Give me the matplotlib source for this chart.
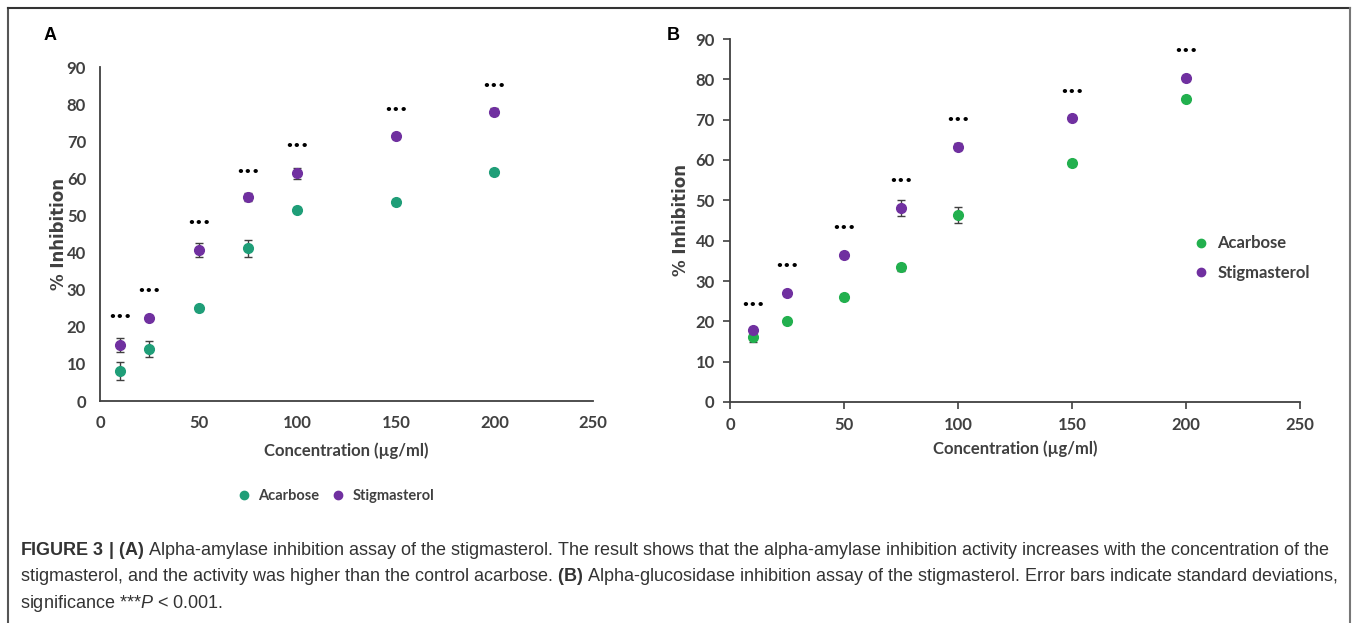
import matplotlib.pyplot as plt
from matplotlib.lines import Line2D

plt.rcParams['mathtext.fontset'] = 'custom'
plt.rcParams['mathtext.bf'] = 'Liberation Sans:bold'
plt.rcParams['mathtext.it'] = 'Liberation Sans:italic'
plt.rcParams['mathtext.rm'] = 'Liberation Sans'

# concentrations (ug/ml)
conc = [10, 25, 50, 75, 100, 150, 200]

# panel A: alpha-amylase
amy_acarbose = [8.1, 14.0, 25.0, 41.1, 51.6, 53.5, 61.8]
amy_acarbose_sd = [2.5, 2.1, 0.7, 2.2, 0.8, 0.8, 0.8]
amy_stigma = [15.1, 22.5, 40.7, 55.0, 61.4, 71.4, 78.0]
amy_stigma_sd = [2.0, 0.7, 1.9, 1.0, 1.5, 0.8, 0.9]
amy_star_y = [22.5, 29.6, 47.9, 61.7, 68.7, 78.2, 84.7]

# panel B: alpha-glucosidase
glu_acarbose = [16.0, 20.0, 26.0, 33.4, 46.4, 59.2, 75.2]
glu_acarbose_sd = [1.0, 0.6, 0.7, 0.8, 2.0, 0.7, 0.6]
glu_stigma = [17.9, 27.0, 36.5, 48.1, 63.3, 70.5, 80.3]
glu_stigma_sd = [0.7, 0.7, 0.7, 2.1, 0.8, 0.7, 0.7]
glu_star_y = [23.9, 33.6, 42.9, 54.6, 69.7, 76.7, 86.8]

xticks = [0, 50, 100, 150, 200, 250]
yticks = [0, 10, 20, 30, 40, 50, 60, 70, 80, 90]

caption = ("$\\bf{FIGURE\\ 3\\ |\\ (A)}$ Alpha-amylase inhibition assay of the stigmasterol. "
           "The result shows that the alpha-amylase inhibition activity increases with the concentration of the\n"
           "stigmasterol, and the activity was higher than the control acarbose. "
           "$\\bf{(B)}$ Alpha-glucosidase inhibition assay of the stigmasterol. "
           "Error bars indicate standard deviations,\n"
           "significance ***$\\it{P}$ < 0.001.")

green_a = '#1f9e78'
green_b = '#22b04e'
purple = '#7030a0'
axis_col = '#404040'
tick_font = ['Lato', 'DejaVu Sans']

W, H = 1357, 623
fig = plt.figure(figsize=(W / 100, H / 100), dpi=100)


def frac(x0, y0, x1, y1):
    return [x0 / W, 1 - y1 / H, (x1 - x0) / W, (y1 - y0) / H]


def panel(ax, acarb, acarb_sd, stig, stig_sd, stars, green, ticks):
    ax.errorbar(conc, acarb, yerr=acarb_sd, fmt='o', color=green, ms=7,
                ecolor='#404040', elinewidth=1, capsize=3, label='Acarbose')
    ax.errorbar(conc, stig, yerr=stig_sd, fmt='o', color=purple, ms=7,
                ecolor='#404040', elinewidth=1, capsize=3, label='Stigmasterol')
    for x, y in zip(conc, stars):
        ax.text(x, y, '•••', ha='center', va='center', fontsize=9,
                fontweight='bold', color='black', family='DejaVu Sans')
    ax.set_xlim(0, 250)
    ax.set_ylim(0, 90)
    ax.set_xticks(xticks)
    ax.set_yticks(yticks)
    for s in ['top', 'right']:
        ax.spines[s].set_visible(False)
    for s in ['left', 'bottom']:
        ax.spines[s].set_color(axis_col)
        ax.spines[s].set_linewidth(1.3)
    ax.tick_params(colors=axis_col, labelsize=12, length=5 if ticks else 0,
                   width=1.2, pad=10 if not ticks else 6)
    for lab in ax.get_xticklabels() + ax.get_yticklabels():
        lab.set_family(tick_font)
        lab.set_fontweight('bold')
    ax.set_xlabel('Concentration (µg/ml)', family=tick_font, fontweight='bold',
                  fontsize=12, color=axis_col)
    ax.set_ylabel('% Inhibition', fontweight='bold', fontsize=12, color=axis_col,
                  family='DejaVu Sans')


# panel A
axA = fig.add_axes(frac(100, 67, 593, 401))
panel(axA, amy_acarbose, amy_acarbose_sd, amy_stigma, amy_stigma_sd, amy_star_y, green_a, False)
axA.yaxis.set_label_coords(-0.065, 0.5)
axA.xaxis.set_label_coords(0.5, -0.125)
hA = [Line2D([], [], ls='', marker='o', ms=6, color=green_a),
      Line2D([], [], ls='', marker='o', ms=6, color=purple)]
axA.legend(hA, ['Acarbose', 'Stigmasterol'], loc='center', bbox_to_anchor=(0.47, -0.285),
           ncol=2, frameon=False, handletextpad=0.0, columnspacing=0.3,
           prop={'family': tick_font, 'weight': 'bold', 'size': 10.5}, labelcolor=axis_col)

# panel B
axB = fig.add_axes(frac(730, 39, 1300, 402))
panel(axB, glu_acarbose, glu_acarbose_sd, glu_stigma, glu_stigma_sd, glu_star_y, green_b, True)
axB.yaxis.set_label_coords(-0.071, 0.5)
axB.xaxis.set_label_coords(0.5, -0.105)
hB = [Line2D([], [], ls='', marker='o', ms=6, color=green_b),
      Line2D([], [], ls='', marker='o', ms=6, color=purple)]
axB.legend(hB, ['Acarbose', 'Stigmasterol'], loc='upper left', bbox_to_anchor=(0.77, 0.5),
           frameon=False, handletextpad=0.0, labelspacing=0.8,
           prop={'family': tick_font, 'weight': 'bold', 'size': 12}, labelcolor=axis_col)

fig.text(44 / W, 1 - 36 / H, 'A', fontsize=13, fontweight='bold', family='Liberation Sans',
         ha='left', va='center')
fig.text(667 / W, 1 - 35 / H, 'B', fontsize=13, fontweight='bold', family='Liberation Sans',
         ha='left', va='center')

# caption
fig.text(20 / W, 1 - 540 / H, caption, fontsize=13.0, family='Liberation Sans',
         color='#333333', ha='left', va='top', linespacing=1.35)

# outer frame
fig.add_artist(Line2D([8 / W, 8 / W], [0, 1 - 8 / H], color='#555555', lw=1.5))
fig.add_artist(Line2D([8 / W, 1350 / W], [1 - 8 / H, 1 - 8 / H], color='#333333', lw=1.5))
fig.add_artist(Line2D([1350 / W, 1350 / W], [0, 1 - 8 / H], color='#777777', lw=1.5))

fig.savefig('out.png', dpi=100, facecolor='white')
